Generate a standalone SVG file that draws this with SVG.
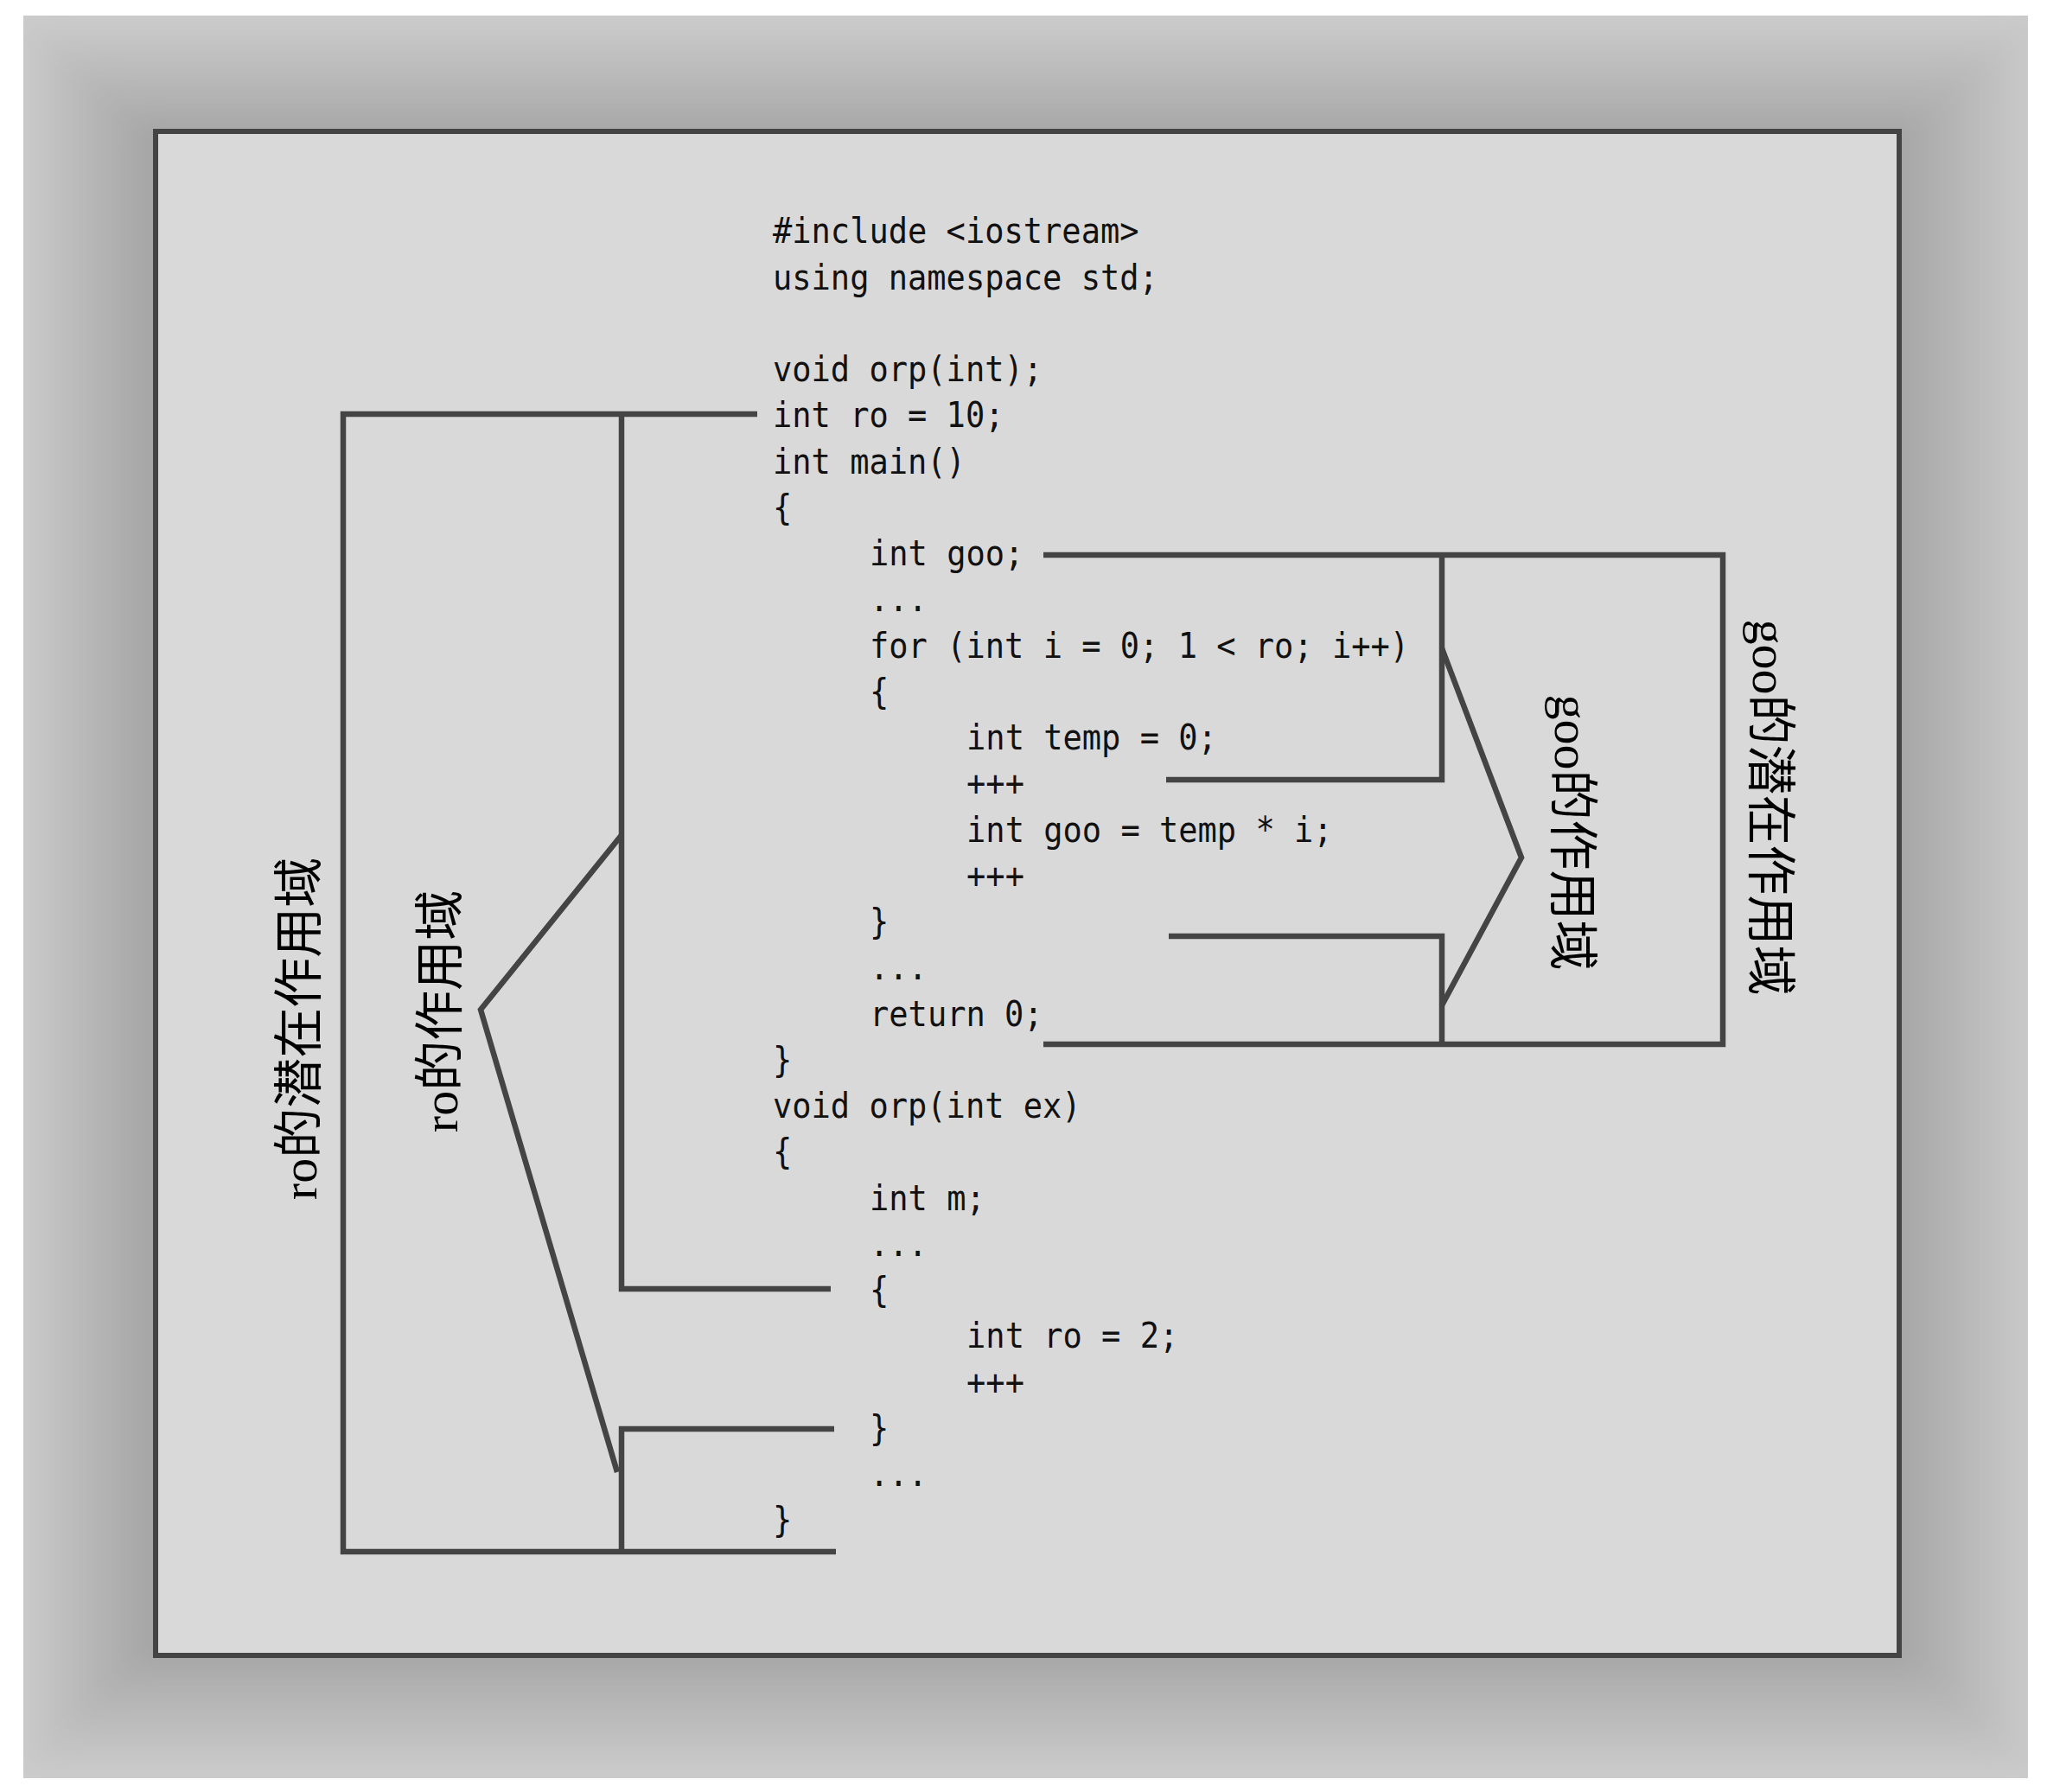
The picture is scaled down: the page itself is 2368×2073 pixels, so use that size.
<svg xmlns="http://www.w3.org/2000/svg" width="2368" height="2073" viewBox="0 0 2368 2073">
<style>
.code{font-family:"DejaVu Sans Mono","Liberation Mono",monospace;font-size:40px;fill:#111}
.lbl{font-family:"Liberation Serif","Noto Sans CJK SC",serif;font-size:58px;fill:#000;text-anchor:middle}
.ln{fill:none;stroke:#444;stroke-width:6.5;stroke-linejoin:miter;stroke-linecap:butt}
</style>
<defs>
<linearGradient id="gT" x1="0" y1="18" x2="0" y2="152" gradientUnits="userSpaceOnUse"><stop offset="0" stop-color="#cccccc"/><stop offset="1" stop-color="#a8a8a8"/></linearGradient>
<linearGradient id="gB" x1="0" y1="2057" x2="0" y2="1915" gradientUnits="userSpaceOnUse"><stop offset="0" stop-color="#cccccc"/><stop offset="1" stop-color="#a8a8a8"/></linearGradient>
<linearGradient id="gL" x1="27" y1="0" x2="180" y2="0" gradientUnits="userSpaceOnUse"><stop offset="0" stop-color="#cacaca"/><stop offset="1" stop-color="#a4a4a4"/></linearGradient>
<linearGradient id="gR" x1="2346" y1="0" x2="2197" y2="0" gradientUnits="userSpaceOnUse"><stop offset="0" stop-color="#c9c9c9"/><stop offset="1" stop-color="#a6a6a6"/></linearGradient>
<clipPath id="outerClip"><rect x="27" y="18" width="2319" height="2039"/></clipPath>
<filter id="soft" x="-0.1" y="-0.1" width="1.2" height="1.2"><feGaussianBlur stdDeviation="14"/></filter>
</defs>
<rect width="2368" height="2073" fill="#ffffff"/>
<g id="frame">
<g clip-path="url(#outerClip)">
<g filter="url(#soft)">
<polygon points="-126,-116 2493,-116 2197,152 180,152" fill="url(#gT)"/>
<polygon points="-126,2191 2493,2191 2197,1915 180,1915" fill="url(#gB)"/>
<polygon points="-126,-116 180,152 180,1915 -126,2191" fill="url(#gL)"/>
<polygon points="2493,-116 2197,152 2197,1915 2493,2191" fill="url(#gR)"/>
<rect x="170" y="142" width="2037" height="1783" fill="#a6a6a6"/>
</g>
</g>
<rect x="180" y="152" width="2017" height="1763" fill="#d9d9d9" stroke="#444" stroke-width="6"/>
</g>
<g id="code" transform="translate(894 0) scale(0.926 1)">
<text class="code" x="0" y="281.5">#include &lt;iostream&gt;</text>
<text class="code" x="0" y="334.75">using namespace std;</text>
<text class="code" x="0" y="441.25">void orp(int);</text>
<text class="code" x="0" y="494.5">int ro = 10;</text>
<text class="code" x="0" y="547.75">int main()</text>
<text class="code" x="0" y="601">{</text>
<text class="code" x="121" y="654.25">int goo;</text>
<text class="code" x="121" y="707.5">...</text>
<text class="code" x="121" y="760.75">for (int i = 0; 1 &lt; ro; i++)</text>
<text class="code" x="121" y="814">{</text>
<text class="code" x="242" y="867.25">int temp = 0;</text>
<text class="code" x="242" y="920.5">+++</text>
<text class="code" x="242" y="973.75">int goo = temp * i;</text>
<text class="code" x="242" y="1027">+++</text>
<text class="code" x="121" y="1080.25">}</text>
<text class="code" x="121" y="1133.5">...</text>
<text class="code" x="121" y="1186.75">return 0;</text>
<text class="code" x="0" y="1240">}</text>
<text class="code" x="0" y="1293.25">void orp(int ex)</text>
<text class="code" x="0" y="1346.5">{</text>
<text class="code" x="121" y="1399.75">int m;</text>
<text class="code" x="121" y="1453">...</text>
<text class="code" x="121" y="1506.25">{</text>
<text class="code" x="242" y="1559.5">int ro = 2;</text>
<text class="code" x="242" y="1612.75">+++</text>
<text class="code" x="121" y="1666">}</text>
<text class="code" x="121" y="1719.25">...</text>
<text class="code" x="0" y="1772.5">}</text>
</g>
<g id="connectors">
<polyline class="ln" points="876,479 397,479 397,1795 967,1795"/>
<polyline class="ln" points="719,479 719,1491 961,1491"/>
<polyline class="ln" points="965,1653 719,1653 719,1795"/>
<polyline class="ln" points="719,966 556,1168 714,1703"/>
<polyline class="ln" points="1207,642 1993,642 1993,1208 1207,1208"/>
<polyline class="ln" points="1668,642 1668,902 1349,902"/>
<polyline class="ln" points="1352,1083 1668,1083 1668,1208"/>
<polyline class="ln" points="1668,750 1760,992 1668,1163"/>
</g>
<g id="label-ro-potential"><text class="lbl" transform="translate(366 1190) rotate(-90)">ro的潜在作用域</text></g>
<g id="label-ro-scope"><text class="lbl" transform="translate(529 1170) rotate(-90)">ro的作用域</text></g>
<g id="label-goo-scope"><text class="lbl" transform="translate(1799 963) rotate(90)">goo的作用域</text></g>
<g id="label-goo-potential"><text class="lbl" transform="translate(2028 934) rotate(90)">goo的潜在作用域</text></g>
</svg>
